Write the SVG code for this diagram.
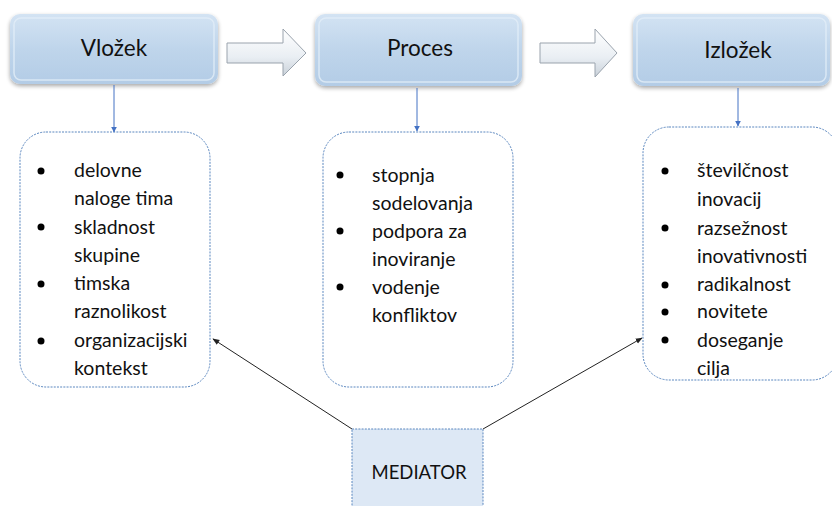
<svg xmlns="http://www.w3.org/2000/svg" width="832" height="506" viewBox="0 0 832 506">
<defs>
<linearGradient id="boxg" x1="0" y1="0" x2="0" y2="1">
<stop offset="0" stop-color="#d3e3f3"/>
<stop offset="0.5" stop-color="#bfd5eb"/>
<stop offset="1" stop-color="#b3cce6"/>
</linearGradient>
<linearGradient id="arrg" x1="0" y1="0" x2="0" y2="1">
<stop offset="0" stop-color="#ffffff"/>
<stop offset="0.6" stop-color="#e9eef3"/>
<stop offset="1" stop-color="#c9d1d9"/>
</linearGradient>
<filter id="sh" x="-10%" y="-10%" width="120%" height="130%">
<feGaussianBlur in="SourceAlpha" stdDeviation="2"/>
<feOffset dx="0" dy="2" result="b"/>
<feComponentTransfer><feFuncA type="linear" slope="0.35"/></feComponentTransfer>
<feMerge><feMergeNode/><feMergeNode in="SourceGraphic"/></feMerge>
</filter>
<marker id="ab" viewBox="0 0 10 10" refX="9" refY="5" markerWidth="6" markerHeight="6" orient="auto">
<path d="M0,0 L10,5 L0,10 z" fill="#4472c4"/>
</marker>
<marker id="ak" viewBox="0 0 10 10" refX="9" refY="5" markerWidth="7" markerHeight="7" orient="auto">
<path d="M0,1 L10,5 L0,9 z" fill="#222"/>
</marker>
</defs>
<style>
.top{fill:url(#boxg);filter:url(#sh)}
.bev{fill:none;stroke:#e2edf8;stroke-width:1.5;opacity:0.8}
.ttl{font-family:Lato,"Liberation Sans",sans-serif;font-size:22.5px;fill:#111;text-anchor:middle}
.lst{fill:#fff;stroke:#5b87bf;stroke-width:1;stroke-dasharray:2 1.2}
.li{font-family:Lato,"Liberation Sans",sans-serif;font-size:19.5px;fill:#111}
.bul{fill:#000}
.blk{fill:url(#arrg);stroke:#9aa3ad;stroke-width:1}
.cb{stroke:#4472c4;stroke-width:1;fill:none;marker-end:url(#ab)}
.ck{stroke:#222;stroke-width:1;fill:none;marker-end:url(#ak)}
</style>

<g id="arrows-block">
<path class="blk" d="M227,43 L283,43 L283,29 L306,53 L283,76 L283,63 L227,63 z"/>
<path class="blk" d="M540,43 L595,43 L595,29 L617,53 L595,77 L595,63 L540,63 z"/>
</g>

<g id="vlozek">
<rect class="top" x="10" y="14" width="208" height="70" rx="10"/>
<rect class="bev" x="14" y="18" width="200" height="62" rx="7"/>
<text class="ttl" x="114" y="56">Vložek</text>
</g>
<g id="proces">
<rect class="top" x="315" y="14" width="207" height="72" rx="10"/>
<rect class="bev" x="319" y="18" width="199" height="64" rx="7"/>
<text class="ttl" x="420" y="56">Proces</text>
</g>
<g id="izlozek">
<rect class="top" x="633" y="14" width="197" height="72" rx="10"/>
<rect class="bev" x="637" y="18" width="189" height="64" rx="7"/>
<text class="ttl" x="738" y="58">Izložek</text>
</g>

<g id="list-input">
<rect class="lst" x="20" y="132" width="190" height="255" rx="26"/>
<g class="bul">
<circle cx="41" cy="171" r="3.5"/><circle cx="41" cy="227" r="3.5"/><circle cx="41" cy="284" r="3.5"/><circle cx="41" cy="341" r="3.5"/>
</g>
<text class="li" x="74" y="177">delovne</text>
<text class="li" x="74" y="205">naloge tima</text>
<text class="li" x="74" y="234">skladnost</text>
<text class="li" x="74" y="262">skupine</text>
<text class="li" x="74" y="290">timska</text>
<text class="li" x="74" y="318">raznolikost</text>
<text class="li" x="74" y="347">organizacijski</text>
<text class="li" x="74" y="375">kontekst</text>
</g>

<g id="list-process">
<rect class="lst" x="323" y="132" width="190" height="255" rx="26"/>
<g class="bul">
<circle cx="340" cy="175" r="3.5"/><circle cx="340" cy="231" r="3.5"/><circle cx="340" cy="287" r="3.5"/>
</g>
<text class="li" x="372" y="182">stopnja</text>
<text class="li" x="372" y="210">sodelovanja</text>
<text class="li" x="372" y="238">podpora za</text>
<text class="li" x="372" y="266">inoviranje</text>
<text class="li" x="372" y="294">vodenje</text>
<text class="li" x="372" y="322">konfliktov</text>
</g>

<g id="list-output">
<rect class="lst" x="643" y="127" width="195" height="253" rx="26"/>
<g class="bul">
<circle cx="665" cy="171" r="3.5"/><circle cx="665" cy="228" r="3.5"/><circle cx="665" cy="285" r="3.5"/><circle cx="665" cy="312" r="3.5"/><circle cx="665" cy="340" r="3.5"/>
</g>
<text class="li" x="697" y="177">številčnost</text>
<text class="li" x="697" y="206">inovacij</text>
<text class="li" x="697" y="235">razsežnost</text>
<text class="li" x="697" y="263">inovativnosti</text>
<text class="li" x="697" y="291">radikalnost</text>
<text class="li" x="697" y="318">novitete</text>
<text class="li" x="697" y="347">doseganje</text>
<text class="li" x="697" y="375">cilja</text>
</g>

<g id="mediator">
<rect x="352" y="429" width="131" height="80" fill="#dde8f5" stroke="#5b87bf" stroke-width="1" stroke-dasharray="2 1.2"/>
<text x="419" y="479" font-family="Lato,'Liberation Sans',sans-serif" font-size="18.5" fill="#111" text-anchor="middle">MEDIATOR</text>
</g>

<g id="connectors">
<line class="cb" x1="114" y1="85" x2="114" y2="132"/>
<line class="cb" x1="417" y1="88" x2="417" y2="131"/>
<line class="cb" x1="738" y1="88" x2="738" y2="126"/>
<line class="ck" x1="352" y1="429" x2="213" y2="339"/>
<line class="ck" x1="483" y1="429" x2="642" y2="338"/>
</g>
</svg>
